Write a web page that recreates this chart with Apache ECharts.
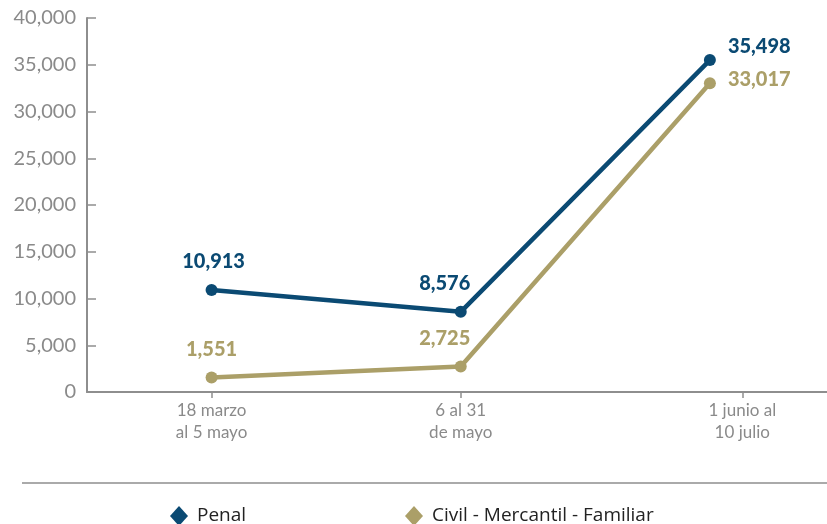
<!DOCTYPE html>
<html>
<head>
<meta charset="utf-8">
<script src="https://cdn.jsdelivr.net/npm/echarts@6/dist/echarts.min.js"></script>
<style>
  html, body { margin: 0; padding: 0; background: #fff; }
  #chart { width: 827px; height: 524px; }
</style>
</head>
<body>
<div id="chart"></div>
<script>
// Periods and case counts per matter
const periods = ['18 marzo\nal 5 mayo', '6 al 31\nde mayo', '1 junio al\n10 julio'];
const penal = [10913, 8576, 35498];
const civil = [1551, 2725, 33017];
const seriesNames = ['Penal', 'Civil - Mercantil - Familiar'];
const yTicks = [0, 5000, 10000, 15000, 20000, 25000, 30000, 35000, 40000];

const colorPenal = '#0b4a73';
const colorCivil = '#ab9f68';
const greyAxis = '#8e8e8e';

// Tick/label positions along the period axis
const periodTickPos = [0, 1, 2.13];

const fmt = v => v.toLocaleString('en-US');

function pairs(values) {
  return values.map((v, i) => [i, v]);
}

// Per-point label placement
const penalLabels = [
  { position: 'top', distance: 12, offset: [2, 0] },
  { position: 'top', distance: 12, offset: [-16, 0] },
  { position: 'right', distance: 12, offset: [0, -14] }
];
const civilLabels = [
  { position: 'top', distance: 12, offset: [0, 0] },
  { position: 'top', distance: 12, offset: [-16, 0] },
  { position: 'right', distance: 12, offset: [0, -4] }
];

function buildData(values, labels) {
  return pairs(values).map((p, i) => ({ value: p, label: labels[i] }));
}

const legendText = {
  color: '#222',
  fontSize: 19,
  fontFamily: 'Open Sans, sans-serif',
  padding: [0, 0, 0, 4]
};

const chart = echarts.init(document.getElementById('chart'));
chart.setOption({
  animation: false,
  grid: { left: 87, right: 0, top: 18, bottom: 132, containLabel: false },
  xAxis: {
    type: 'value',
    min: -0.5,
    max: 2.47,
    splitLine: { show: false },
    axisLine: { show: true, onZero: false, lineStyle: { color: greyAxis, width: 2 } },
    axisTick: {
      show: true, length: 6, inside: false,
      customValues: periodTickPos,
      lineStyle: { color: greyAxis, width: 1.5 }
    },
    axisLabel: {
      customValues: periodTickPos,
      formatter: v => periods[Math.round(v)],
      color: '#8a8a8a',
      fontFamily: 'Lato',
      fontSize: 17,
      lineHeight: 22,
      margin: 8,
      align: 'center'
    }
  },
  yAxis: {
    type: 'value',
    min: yTicks[0],
    max: yTicks[yTicks.length - 1],
    interval: 5000,
    splitLine: { show: false },
    axisLine: { show: true, onZero: false, lineStyle: { color: greyAxis, width: 2 } },
    axisTick: { show: true, inside: true, length: 9, lineStyle: { color: greyAxis, width: 1.5 } },
    axisLabel: {
      formatter: v => fmt(v),
      color: '#8a8a8a',
      fontFamily: 'Lato',
      fontSize: 20,
      margin: 11
    }
  },
  legend: [
    {
      left: 165, top: 501,
      data: [{ name: seriesNames[0], icon: 'diamond' }],
      itemWidth: 18, itemHeight: 20, itemGap: 0,
      textStyle: legendText
    },
    {
      left: 400, top: 501,
      data: [{ name: seriesNames[1], icon: 'diamond' }],
      itemWidth: 18, itemHeight: 20, itemGap: 0,
      textStyle: legendText
    }
  ],
  graphic: [
    {
      type: 'line',
      shape: { x1: 22, y1: 483, x2: 827, y2: 483 },
      style: { stroke: '#8e8e8e', lineWidth: 1.5 }
    }
  ],
  series: [
    {
      name: seriesNames[0],
      type: 'line',
      data: buildData(penal, penalLabels),
      color: colorPenal,
      symbol: 'circle',
      symbolSize: 12,
      lineStyle: { width: 4.5, color: colorPenal },
      itemStyle: { color: colorPenal },
      label: {
        show: true,
        formatter: p => fmt(p.value[1]),
        color: colorPenal,
        fontFamily: 'Lato',
        fontWeight: 900,
        fontSize: 20
      },
      z: 3
    },
    {
      name: seriesNames[1],
      type: 'line',
      data: buildData(civil, civilLabels),
      color: colorCivil,
      symbol: 'circle',
      symbolSize: 12,
      lineStyle: { width: 4.5, color: colorCivil },
      itemStyle: { color: colorCivil },
      label: {
        show: true,
        formatter: p => fmt(p.value[1]),
        color: colorCivil,
        fontFamily: 'Lato',
        fontWeight: 900,
        fontSize: 20
      },
      z: 2
    }
  ]
});
</script>
</body>
</html>
